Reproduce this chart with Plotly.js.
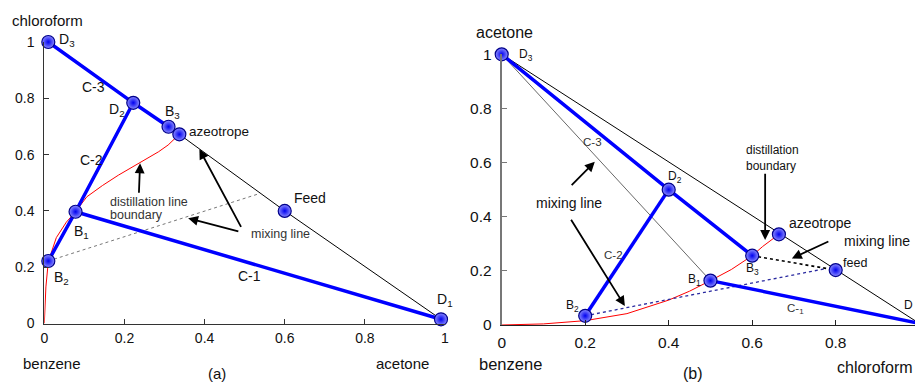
<!DOCTYPE html>
<html><head><meta charset="utf-8">
<script src="https://cdn.plot.ly/plotly-3.0.1.min.js"></script>
<style>html,body{margin:0;padding:0;background:#fff}#c{width:915px;height:383px}</style>
</head><body><div id="c"></div>
<script>
// ---------- Panel (a): x = acetone, y = chloroform ----------
const aPointNames = ['D3','D2','B3','azeotrope','Feed','B1','B2','D1'];
const aPointX = [0.01, 0.222, 0.31, 0.337, 0.60, 0.078, 0.01, 0.99];
const aPointY = [1.00, 0.784, 0.699, 0.672, 0.40, 0.397, 0.222, 0.015];
const aC3X = [0.01, 0.222, 0.31],  aC3Y = [1.00, 0.784, 0.699];
const aC2X = [0.222, 0.078, 0.01], aC2Y = [0.784, 0.397, 0.222];
const aC1X = [0.078, 0.99],        aC1Y = [0.397, 0.015];
const aBinaryX = [0.31, 0.337, 0.60, 0.99], aBinaryY = [0.699, 0.672, 0.40, 0.015];
const aMixX = [0.01, 0.538], aMixY = [0.222, 0.462];
const aBoundaryX = [0, 0.002, 0.004, 0.01, 0.03, 0.055, 0.078, 0.106, 0.145, 0.185, 0.235, 0.285, 0.309, 0.336];
const aBoundaryY = [0, 0.06, 0.13, 0.22, 0.305, 0.36, 0.397, 0.45, 0.49, 0.527, 0.569, 0.61, 0.634, 0.671];

// ---------- Panel (b): x = chloroform, y = acetone ----------
const bPointNames = ['D3','D2','B3','azeotrope','feed','B1','B2','D1'];
const bPointX = [0.00, 0.40, 0.60, 0.664, 0.80, 0.50, 0.20, 1.00];
const bPointY = [1.00, 0.50, 0.256, 0.335, 0.203, 0.164, 0.034, 0.006];
const bBinaryX = [0.00, 1.00], bBinaryY = [1.00, 0.006];
const bThinX = [0.00, 0.50], bThinY = [1.00, 0.164];
const bC3X = [0.00, 0.40, 0.60], bC3Y = [1.00, 0.50, 0.256];
const bC2X = [0.20, 0.40], bC2Y = [0.034, 0.50];
const bC1X = [0.50, 1.00], bC1Y = [0.164, 0.006];
const bMix1X = [0.60, 0.80], bMix1Y = [0.256, 0.203];
const bMix2X = [0.20, 0.775], bMix2Y = [0.034, 0.208];
const bBoundaryX = [0, 0.1, 0.2, 0.3, 0.4, 0.45, 0.5, 0.55, 0.6, 0.625, 0.664];
const bBoundaryY = [0, 0.004, 0.016, 0.042, 0.092, 0.125, 0.164, 0.205, 0.256, 0.29, 0.335];

const tickVals = [0, 0.2, 0.4, 0.6, 0.8, 1];
const tickText = ['0', '0.2', '0.4', '0.6', '0.8', '1'];

const W = 915, H = 383;
const FONT = 'Arial, "Liberation Sans", sans-serif';

function line(x, y, xa, ya, color, width, dash) {
  return {x, y, xaxis: xa, yaxis: ya, type: 'scatter', mode: 'lines',
    line: {color, width, dash: dash || 'solid'}, hoverinfo: 'skip', showlegend: false};
}
function pts(x, y, xa, ya, size) {
  return {x, y, xaxis: xa, yaxis: ya, type: 'scatter', mode: 'markers', cliponaxis: false,
    marker: {size, color: '#8c8cff', gradient: {type: 'radial', color: '#0000f0'},
      line: {color: '#00008b', width: 1.2}}, hoverinfo: 'skip', showlegend: false};
}

const traces = [
  line(aBoundaryX, aBoundaryY, 'x', 'y', '#ff0000', 1),
  line(aMixX, aMixY, 'x', 'y', '#777777', 1, 'dot'),
  line(aBinaryX, aBinaryY, 'x', 'y', '#000000', 1),
  line(aC3X, aC3Y, 'x', 'y', '#0000ff', 3.5),
  line(aC2X, aC2Y, 'x', 'y', '#0000ff', 3.5),
  line(aC1X, aC1Y, 'x', 'y', '#0000ff', 3.5),
  pts(aPointX, aPointY, 'x', 'y', 13),

  line(bBoundaryX, bBoundaryY, 'x2', 'y2', '#ff0000', 1),
  line(bBinaryX, bBinaryY, 'x2', 'y2', '#000000', 1),
  line(bThinX, bThinY, 'x2', 'y2', '#000000', 0.6),
  line(bMix2X, bMix2Y, 'x2', 'y2', '#2a2aa0', 1.3, 'dot'),
  line(bMix1X, bMix1Y, 'x2', 'y2', '#000000', 1.6, 'dot'),
  line(bC3X, bC3Y, 'x2', 'y2', '#0000ff', 3.5),
  line(bC2X, bC2Y, 'x2', 'y2', '#0000ff', 3.5),
  line(bC1X, bC1Y, 'x2', 'y2', '#0000ff', 3.5),
  pts(bPointX, bPointY, 'x2', 'y2', 13),
];

// text label at pixel position (left edge, vertical middle)
function txt(text, px, py, size, color, anchor) {
  return {text, x: px / W, y: 1 - py / H, xref: 'paper', yref: 'paper',
    xanchor: anchor || 'left', yanchor: 'middle', showarrow: false,
    font: {family: FONT, size, color: color || '#111'}};
}
function arrow(xa, ya, tx, ty, hx, hy) {
  return {x: hx, y: hy, ax: tx, ay: ty, xref: xa, yref: ya, axref: xa, ayref: ya,
    showarrow: true, arrowhead: 2, arrowsize: 1.1, arrowwidth: 1.8, arrowcolor: '#000', text: ''};
}

const annotations = [
  // panel (a)
  txt('chloroform', 10, 20, 15),
  txt('D<sub>3</sub>', 57, 40, 14),
  txt('C-3', 80, 87, 14),
  txt('D<sub>2</sub>', 107, 110, 14),
  txt('B<sub>3</sub>', 163, 112, 14),
  txt('azeotrope', 187, 132, 13.5),
  txt('C-2', 78, 160, 14),
  txt('distillation line', 108, 202, 12.5, '#333'),
  txt('boundary', 108, 215, 12.5, '#333'),
  txt('Feed', 292, 198, 14),
  txt('B<sub>1</sub>', 72, 232, 14),
  txt('mixing line', 249, 234, 12.5, '#333'),
  txt('B<sub>2</sub>', 52, 278, 14),
  txt('C-1', 236, 276, 14),
  txt('D<sub>1</sub>', 435, 300, 14),
  txt('benzene', 21, 363, 15),
  txt('acetone', 374, 363, 15),
  txt('(a)', 206, 373, 15),
  arrow('x', 'y', 0.236, 0.459, 0.239, 0.569),
  arrow('x', 'y', 0.493, 0.338, 0.387, 0.619),
  arrow('x', 'y', 0.488, 0.326, 0.359, 0.374),

  // panel (b)
  txt('acetone', 474, 33, 16),
  txt('D<sub>3</sub>', 517, 55, 12),
  txt('C-3', 581, 142, 11.5, '#333'),
  txt('D<sub>2</sub>', 666, 177, 12),
  txt('distillation', 744, 150, 12),
  txt('boundary', 744, 166, 12),
  txt('azeotrope', 787, 223, 14),
  txt('mixing line', 842, 241, 14),
  txt('feed', 841, 263, 12.5),
  txt('B<sub>3</sub>', 744, 269, 12),
  txt('B<sub>1</sub>', 686, 280, 12),
  txt('C-2', 602, 255, 11.5, '#333'),
  txt('B<sub>2</sub>', 564, 306, 12),
  txt('C-<sub>1</sub>', 785, 309, 11.5, '#333'),
  txt('D', 902, 305, 12),
  txt('mixing line', 534, 203, 14),
  txt('benzene', 477, 364, 16.5),
  txt('chloroform', 835, 367, 16),
  txt('(b)', 681, 373, 16),
  arrow('x2', 'y2', 0.631, 0.564, 0.631, 0.314),
  arrow('x2', 'y2', 0.786, 0.311, 0.695, 0.246),
  arrow('x2', 'y2', 0.164, 0.394, 0.295, 0.070),
  arrow('x2', 'y2', 0.164, 0.511, 0.223, 0.603),
];

function ax(domain, range, color, lw, anchor, size, standoff) {
  return {domain, range, anchor, showline: true, linecolor: color, linewidth: lw,
    ticks: 'inside', ticklen: 5, tickwidth: 1, tickcolor: color,
    tickvals: tickVals, ticktext: tickText, showgrid: false, zeroline: false,
    ticklabelstandoff: standoff,
    tickfont: {family: FONT, size, color: '#111'}, fixedrange: true};
}

const layout = {
  width: W, height: H, margin: {l: 0, r: 0, t: 0, b: 0},
  paper_bgcolor: '#fff', plot_bgcolor: 'rgba(0,0,0,0)', showlegend: false,
  xaxis: ax([44.3 / W, 445 / W], [0, 1], '#333', 1, 'y', 14, 2),
  yaxis: ax([(H - 323.5) / H, (H - 42) / H], [0, 1], '#333', 1, 'x', 14, 6),
  xaxis2: ax([501.7 / W, 1], [0, (W - 501.7) / 417.5], '#222', 1, 'y2', 15.5, 3),
  yaxis2: ax([(H - 325) / H, (H - 54.3) / H], [0, 1], '#777', 2, 'x2', 15.5, 5),
  annotations
};

Plotly.newPlot('c', traces, layout, {staticPlot: true, displayModeBar: false});
</script></body></html>
